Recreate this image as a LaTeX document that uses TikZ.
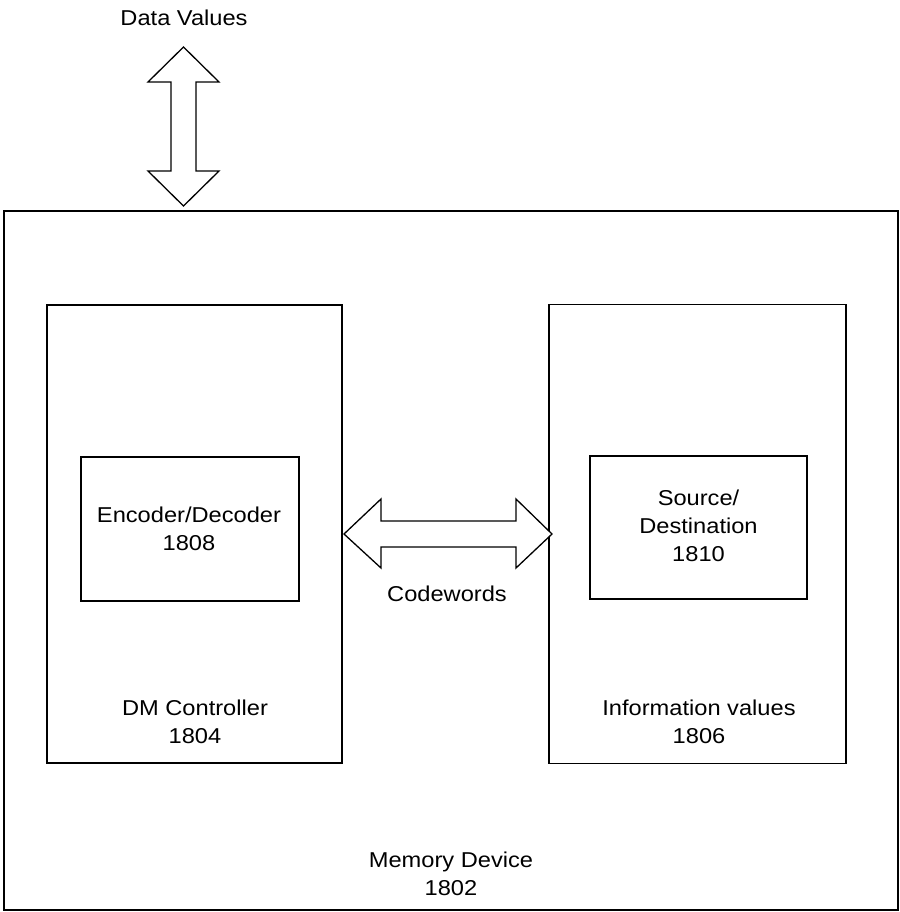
\documentclass[tikz,border=0pt]{standalone}
\usepackage{fontspec}
\setmainfont{Liberation Sans}[FakeStretch=1.1]
\begin{document}
\begin{tikzpicture}[x=1pt,y=-1pt,
  box/.style={draw=black,line width=1.3pt,inner sep=0pt},
  lbl/.style={align=center,inner sep=0pt,font=\fontsize{21.5}{28}\selectfont},
  blockarrow/.style={draw=black,line width=1.3pt,fill=white,line join=miter}]
\useasboundingbox (0,0) rectangle (899,912);
% boxes
\node[box,minimum width=894pt,minimum height=699pt] (mem) at (451,560.5) {};
\node[box,minimum width=295pt,minimum height=458pt] (dm) at (194.5,534) {};
\node[box,minimum width=297pt,minimum height=459pt] (info) at (697.5,534) {};
\node[box,minimum width=218pt,minimum height=144pt] (enc) at (190,529) {};
\node[box,minimum width=217pt,minimum height=143pt] (src) at (698.5,527.5) {};
% labels
\node[lbl] (datav) at (184,18) {Data Values};
\node[lbl] (enct) at (189,528.5) {Encoder/Decoder\\1808};
\node[lbl] (srct) at (698.5,526) {Source/\\Destination\\1810};
\node[lbl] (codew) at (447,594) {Codewords};
\node[lbl] (dmt) at (195,722) {DM Controller\\1804};
\node[lbl] (infot) at (699,722) {Information values\\1806};
\node[lbl] (memt) at (451,873.5) {Memory Device\\1802};
% vertical double block arrow (Data Values)
\draw[blockarrow] (183.5,47) -- (219,82) -- (196,82) -- (196,171) -- (219,171) -- (183.5,206)
  -- (148,171) -- (171,171) -- (171,82) -- (148,82) -- cycle;
% horizontal double block arrow (Codewords)
\draw[blockarrow] (344,534) -- (381,499) -- (381,521) -- (516,521) -- (516,499) -- (552,534)
  -- (516,568) -- (516,547) -- (381,547) -- (381,568) -- cycle;
\end{tikzpicture}
\end{document}
